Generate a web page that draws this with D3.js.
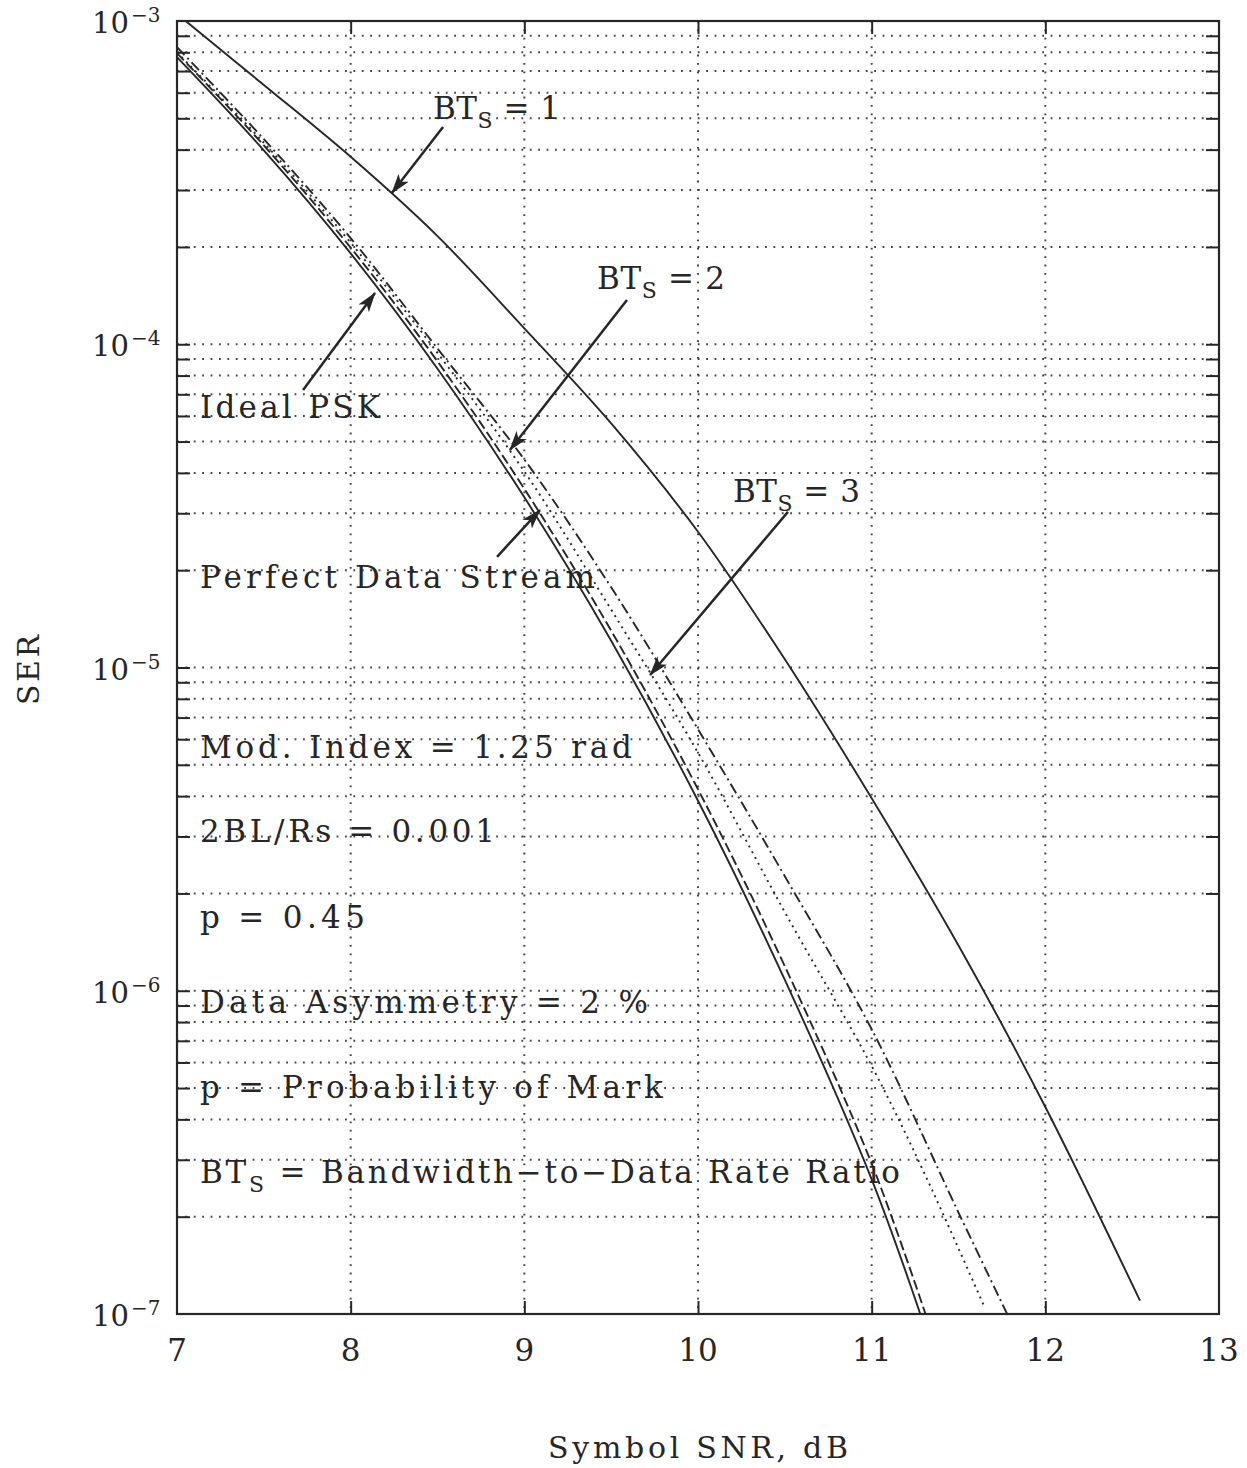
<!DOCTYPE html>
<html>
<head>
<meta charset="utf-8">
<script src="https://cdn.jsdelivr.net/npm/d3@7/dist/d3.min.js"></script>
<style>
  html, body { margin: 0; padding: 0; background: #ffffff; }
  svg { display: block; }
  text { font-family: "DejaVu Serif", "Liberation Serif", serif; fill: #262626; }
</style>
</head>
<body>
<svg id="chart" width="1247" height="1468"></svg>
<script>
// ---- Data: symbol error rate vs. symbol SNR (dB) ----
const snrTicks = [7, 8, 9, 10, 11, 12, 13];
const serDecades = [1e-7, 1e-6, 1e-5, 1e-4, 1e-3];
const serDecadeExponents = ["−7", "−6", "−5", "−4", "−3"];

// Ideal PSK (solid)
const idealSnr = [7.0, 7.5, 8.0, 8.5, 9.0, 9.5, 10.0, 10.5, 11.0, 11.28];
const idealSer = [7.73e-4, 3.98e-4, 1.91e-4, 8.4e-5, 3.36e-5, 1.21e-5, 3.87e-6, 1.08e-6, 2.61e-7, 1.0e-7];

// Perfect data stream (dashed)
const perfectSnr = [7.0, 7.5, 8.0, 8.5, 9.0, 9.5, 10.0, 10.5, 11.0, 11.31];
const perfectSer = [7.95e-4, 4.12e-4, 1.99e-4, 8.85e-5, 3.57e-5, 1.3e-5, 4.2e-6, 1.19e-6, 2.92e-7, 1.0e-7];

// BTs = 3 (dotted)
const bt3Snr = [7.0, 7.5, 8.0, 8.5, 9.0, 9.5, 10.0, 10.5, 11.0, 11.3, 11.65];
const bt3Ser = [8.0e-4, 4.2e-4, 2.06e-4, 9.4e-5, 4.04e-5, 1.51e-5, 5.45e-6, 1.75e-6, 5.85e-7, 2.75e-7, 1.05e-7];

// BTs = 2 (dash-dot)
const bt2Snr = [7.0, 7.5, 8.0, 8.5, 9.0, 9.5, 10.0, 10.5, 11.0, 11.5, 11.78];
const bt2Ser = [8.3e-4, 4.31e-4, 2.13e-4, 9.7e-5, 4.4e-5, 1.77e-5, 6.44e-6, 2.26e-6, 7.6e-7, 2.06e-7, 1.0e-7];

// BTs = 1 (solid, upper)
const bt1Snr = [7.05, 7.5, 8.0, 8.5, 9.0, 9.5, 10.0, 10.5, 11.0, 11.5, 12.0, 12.545];
const bt1Ser = [1.0e-3, 6.34e-4, 3.8e-4, 2.16e-4, 1.12e-4, 5.69e-5, 2.63e-5, 1.06e-5, 3.94e-6, 1.38e-6, 4.37e-7, 1.1e-7];

// ---- Layout ----
const W = 1247, H = 1468;
const plot = { left: 177, right: 1219, top: 21, bottom: 1314 };
const ink = "#262626";

const svg = d3.select("#chart");
svg.append("rect").attr("width", W).attr("height", H).attr("fill", "#ffffff");

const x = d3.scaleLinear().domain([7, 13]).range([plot.left, plot.right]);
const y = d3.scaleLog().domain([1e-7, 1e-3]).range([plot.bottom, plot.top]);

const defs = svg.append("defs");
defs.append("clipPath").attr("id", "plot-clip")
  .append("rect")
  .attr("x", plot.left).attr("y", plot.top)
  .attr("width", plot.right - plot.left).attr("height", plot.bottom - plot.top);

defs.append("marker")
  .attr("id", "arrowhead")
  .attr("markerUnits", "userSpaceOnUse")
  .attr("viewBox", "0 0 20 14")
  .attr("refX", 19).attr("refY", 7)
  .attr("markerWidth", 20).attr("markerHeight", 14)
  .attr("orient", "auto")
  .append("path")
  .attr("d", "M0,0.5 L20,7 L0,13.5 L5,7 Z")
  .attr("fill", ink);

// ---- Grid (dotted) ----
const grid = svg.append("g").attr("stroke", "#444").attr("stroke-width", 2)
  .attr("stroke-dasharray", "1.8 6.6").attr("fill", "none");

const minorSer = y.ticks().filter(v => v > 1e-7 * 1.0001 && v < 1e-3 * 0.9999);
grid.selectAll("line.h").data(minorSer).join("line")
  .attr("class", "h")
  .attr("x1", plot.left).attr("x2", plot.right)
  .attr("y1", d => y(d)).attr("y2", d => y(d));

grid.selectAll("line.v").data(snrTicks.slice(1, -1)).join("line")
  .attr("class", "v")
  .attr("x1", d => x(d)).attr("x2", d => x(d))
  .attr("y1", plot.top).attr("y2", plot.bottom);

// ---- Inward tick marks on all four sides ----
const tickLen = 13;
const styleAxis = g => {
  g.select(".domain").remove();
  g.selectAll(".tick line").attr("stroke", ink).attr("stroke-width", 2);
  g.selectAll(".tick text").remove();
};
svg.append("g").attr("transform", `translate(${plot.left},0)`)
  .call(d3.axisLeft(y).tickValues(minorSer).tickSize(-tickLen).tickFormat(""))
  .call(styleAxis);
svg.append("g").attr("transform", `translate(${plot.right},0)`)
  .call(d3.axisRight(y).tickValues(minorSer).tickSize(-tickLen).tickFormat(""))
  .call(styleAxis);
svg.append("g").attr("transform", `translate(0,${plot.bottom})`)
  .call(d3.axisBottom(x).tickValues(snrTicks.slice(1, -1)).tickSize(-tickLen).tickFormat(""))
  .call(styleAxis);
svg.append("g").attr("transform", `translate(0,${plot.top})`)
  .call(d3.axisTop(x).tickValues(snrTicks.slice(1, -1)).tickSize(-tickLen).tickFormat(""))
  .call(styleAxis);

// ---- Curves ----
const toPoints = (s, v) => s.map((d, i) => ({ snr: d, ser: v[i] }));
const curves = [
  { pts: toPoints(bt1Snr, bt1Ser), dash: null },
  { pts: toPoints(idealSnr, idealSer), dash: null },
  { pts: toPoints(perfectSnr, perfectSer), dash: "10 4" },
  { pts: toPoints(bt3Snr, bt3Ser), dash: "2 4.5" },
  { pts: toPoints(bt2Snr, bt2Ser), dash: "11 4 2 4" }
];
const line = d3.line()
  .x(d => x(d.snr))
  .y(d => y(d.ser))
  .curve(d3.curveCatmullRom.alpha(0.5));

svg.append("g").attr("clip-path", "url(#plot-clip)")
  .selectAll("path").data(curves).join("path")
  .attr("d", d => line(d.pts))
  .attr("fill", "none")
  .attr("stroke", ink)
  .attr("stroke-width", 1.9)
  .attr("stroke-dasharray", d => d.dash);

// ---- Frame ----
svg.append("rect")
  .attr("x", plot.left).attr("y", plot.top)
  .attr("width", plot.right - plot.left).attr("height", plot.bottom - plot.top)
  .attr("fill", "none").attr("stroke", ink).attr("stroke-width", 2.2);

// Spread a text's letters so that it spans the given width.
function fitWidth(t, width) {
  t.attr("letter-spacing", 0);
  const node = t.node();
  const natural = node.getComputedTextLength();
  const n = node.textContent.length;
  const ls = (width - natural) / Math.max(1, n - 1);
  t.attr("letter-spacing", ls);
  return t;
}

// ---- Tick labels ----
const yl = svg.append("g");
serDecades.forEach((v, i) => {
  const t = yl.append("text")
    .attr("x", 92).attr("y", y(v) + 12)
    .attr("font-size", 29);
  t.append("tspan").text("10");
  t.append("tspan").attr("font-size", 20).attr("dy", -11).attr("dx", 2).text(serDecadeExponents[i]);
});

svg.append("g").selectAll("text").data(snrTicks).join("text")
  .attr("x", d => x(d)).attr("y", plot.bottom + 47)
  .attr("text-anchor", "middle")
  .attr("font-size", 31)
  .text(d => d);

// ---- Axis titles ----
fitWidth(svg.append("text")
  .attr("x", 548).attr("y", 1458)
  .attr("font-size", 30)
  .text("Symbol SNR, dB"), 300);

fitWidth(svg.append("text")
  .attr("transform", "translate(39,705) rotate(-90)")
  .attr("font-size", 30)
  .text("SER"), 70);

// ---- Annotations (placed in data coordinates) ----
const ann = svg.append("g");
const fs = 31;

function btLabel(snr, ser, value, width) {
  const t = ann.append("text").attr("x", x(snr)).attr("y", y(ser))
    .attr("font-size", fs);
  t.append("tspan").text("BT");
  t.append("tspan").attr("font-size", 22).attr("dy", 9).text("S");
  t.append("tspan").attr("dy", -9).text(" = " + value);
  return fitWidth(t, width);
}
function plainLabel(snr, ser, str, width) {
  return fitWidth(ann.append("text").attr("x", x(snr)).attr("y", y(ser))
    .attr("font-size", fs).text(str), width);
}
function arrow(s0, v0, s1, v1) {
  ann.append("line")
    .attr("x1", x(s0)).attr("y1", y(v0))
    .attr("x2", x(s1)).attr("y2", y(v1))
    .attr("stroke", ink).attr("stroke-width", 2.5)
    .attr("marker-end", "url(#arrowhead)");
}

btLabel(8.474, 4.98e-4, "1", 127);
arrow(8.532, 4.70e-4, 8.238, 2.94e-4);

btLabel(9.418, 1.48e-4, "2", 128);
arrow(9.591, 1.37e-4, 8.917, 4.71e-5);

btLabel(10.201, 3.25e-5, "3", 127);
arrow(10.518, 3.03e-5, 9.724, 9.48e-6);

plainLabel(7.132, 5.91e-5, "Ideal PSK", 180);
arrow(7.726, 7.22e-5, 8.140, 1.44e-4);

plainLabel(7.132, 1.76e-5, "Perfect Data Stream", 395);
arrow(8.843, 2.20e-5, 9.090, 3.07e-5);

plainLabel(7.132, 5.25e-6, "Mod. Index = 1.25 rad", 432);
plainLabel(7.132, 2.88e-6, "2BL/Rs = 0.001", 295);
plainLabel(7.132, 1.56e-6, "p = 0.45", 165);
plainLabel(7.132, 8.53e-7, "Data Asymmetry = 2 %", 448);
plainLabel(7.132, 4.66e-7, "p = Probability of Mark", 463);

// bandwidth definition line
{
  const t = ann.append("text").attr("x", x(7.132)).attr("y", y(2.54e-7))
    .attr("font-size", fs);
  t.append("tspan").text("BT");
  t.append("tspan").attr("font-size", 22).attr("dy", 9).text("S");
  t.append("tspan").attr("dy", -9).text(" = Bandwidth−to−Data Rate Ratio");
  fitWidth(t, 700);
}
</script>
</body>
</html>
